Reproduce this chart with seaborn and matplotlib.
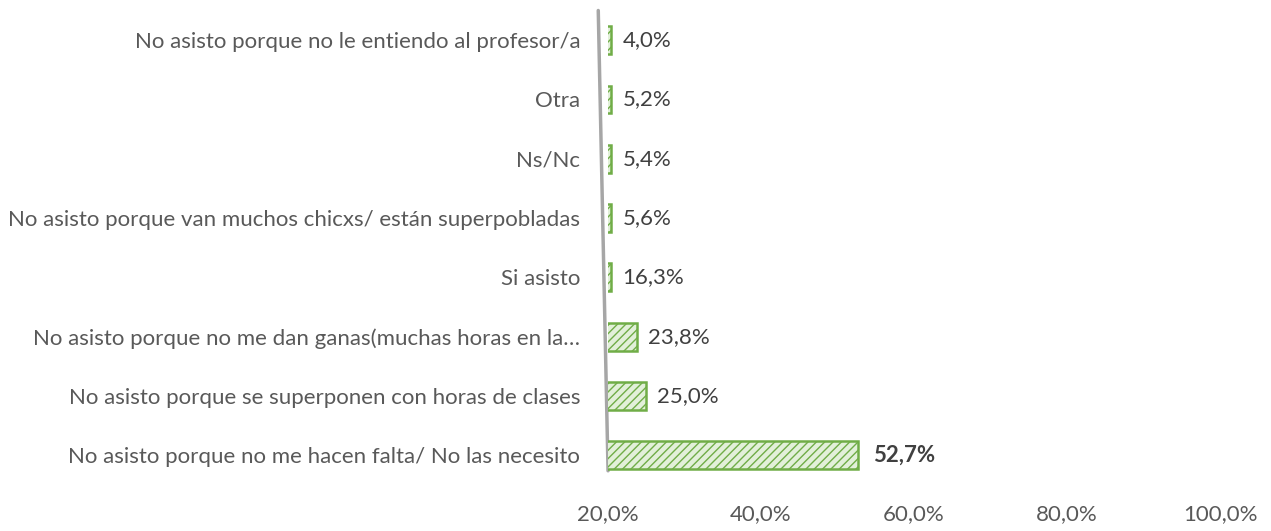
import numpy as np
import pandas as pd
import matplotlib
matplotlib.use("Agg")
import matplotlib.pyplot as plt
import seaborn as sns

categories = [
    "No asisto porque no le entiendo al profesor/a",
    "Otra",
    "Ns/Nc",
    "No asisto porque van muchos chicxs/ están superpobladas",
    "Si asisto",
    "No asisto porque no me dan ganas(muchas horas en la…",
    "No asisto porque se superponen con horas de clases",
    "No asisto porque no me hacen falta/ No las necesito",
]
values = [4.0, 5.2, 5.4, 5.6, 16.3, 23.8, 25.0, 52.7]
tick_values = [20, 40, 60, 80, 100]
tick_labels = ["20,0%", "40,0%", "60,0%", "80,0%", "100,0%"]

AXIS_MIN = 20
# Excel draws bars below the axis minimum as slivers at the axis
display = [max(v, AXIS_MIN + 0.45) for v in values]

sns.set_theme(style="white")
plt.rcParams["font.family"] = ["Lato", "DejaVu Sans"]
plt.rcParams["hatch.color"] = "#70AD47"
plt.rcParams["hatch.linewidth"] = 1.0

df = pd.DataFrame({"cat": categories, "val": display})

fig = plt.figure(figsize=(12.71, 5.31), dpi=100)
ax = fig.add_axes([0.4784, 0.0866, 0.4815, 0.8936])

sns.barplot(data=df, x="val", y="cat", orient="h", ax=ax,
            color="#E2F0D9", edgecolor="#70AD47", linewidth=1.8,
            hatch="////", width=0.47, saturation=1)

ax.set_xlim(AXIS_MIN, 100)
ax.set_ylim(len(categories) - 0.5, -0.5)
ax.set_xticks(tick_values)
ax.set_xticklabels(tick_labels)
ax.set_xlabel("")
ax.set_ylabel("")
for s in ax.spines.values():
    s.set_visible(False)
ax.tick_params(axis="x", length=0, pad=14, labelsize=16, labelcolor="#595959")
ax.tick_params(axis="y", length=0, pad=20, labelsize=16, labelcolor="#595959")

# slanted value axis line (3D perspective)
ax.plot([-0.016, 0.0], [1.0, 0.03], transform=ax.transAxes,
        color="#A6A6A6", lw=2.5, clip_on=False, zorder=0)

for i, (v, d) in enumerate(zip(values, display)):
    lab = f"{v:.1f}%".replace(".", ",")
    bold = v == max(values)
    ax.annotate(lab, xy=(d, i), xytext=(11 if bold else 8, 0),
                textcoords="offset points", va="center", ha="left",
                fontsize=16, color="#404040",
                fontweight="bold" if bold else "normal")

fig.savefig("out.png", dpi=100, facecolor="white")
